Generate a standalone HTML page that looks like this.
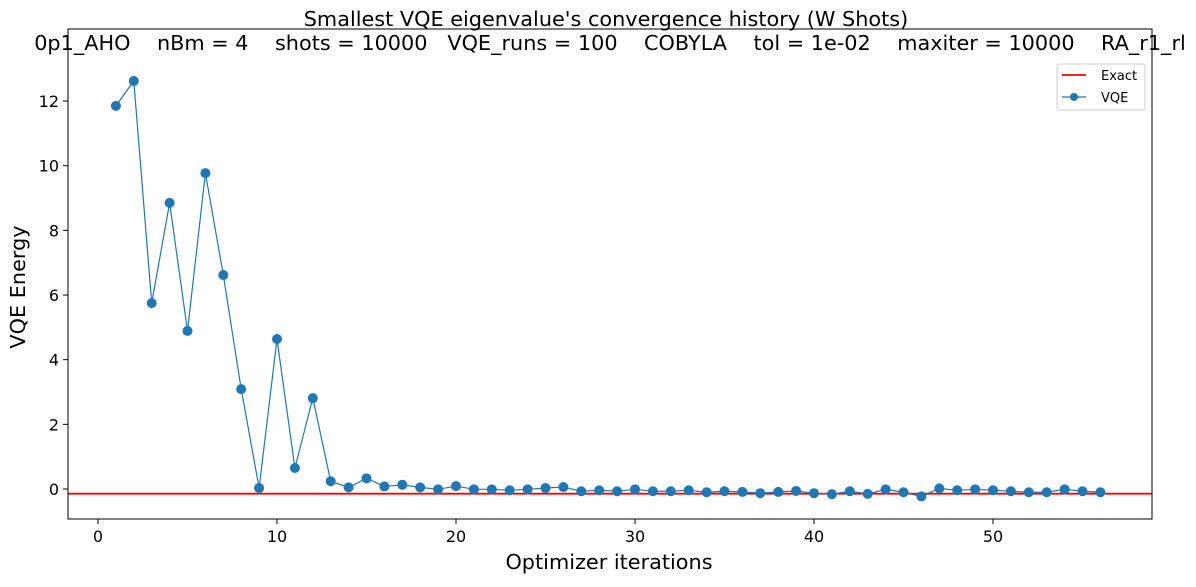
<!DOCTYPE html>
<html><head><meta charset="utf-8"><style>
body{margin:0;background:#fff;font-family:"Liberation Sans","DejaVu Sans",sans-serif}
text{white-space:pre}
</style></head><body>
<svg width="1196" height="582" font-family="'DejaVu Sans','Liberation Sans',sans-serif">
<text x="606" y="26" font-size="20.8" text-anchor="middle">Smallest VQE eigenvalue's convergence history (W Shots)</text>
<text x="610" y="50" font-size="20.8" text-anchor="middle" xml:space="preserve">0p1_AHO    nBm = 4    shots = 10000   VQE_runs = 100    COBYLA    tol = 1e-02    maxiter = 10000    RA_r1_rl</text>
<g id="plot"></g>
<text x="609" y="569" font-size="20.8" text-anchor="middle">Optimizer iterations</text>
<text transform="translate(25,287) rotate(-90)" font-size="20.8" text-anchor="middle">VQE Energy</text>
<g>
<rect x="1057" y="64" width="88" height="46" fill="#fff" stroke="#ccc" rx="2"/>
<line x1="1062" y1="75" x2="1086" y2="75" stroke="red" stroke-width="1.8"/>
<text x="1101" y="80" font-size="13">Exact</text>
<line x1="1062" y1="97" x2="1086" y2="97" stroke="#1f77b4" stroke-width="1.2"/>
<circle cx="1074" cy="97" r="4" fill="#1f77b4"/>
<text x="1101" y="102" font-size="13">VQE</text>
</g>
</svg>
<script>
const iterations = [1,2,3,4,5,6,7,8,9,10,11,12,13,14,15,16,17,18,19,20,21,22,23,24,25,26,27,28,29,30,31,32,33,34,35,36,37,38,39,40,41,42,43,44,45,46,47,48,49,50,51,52,53,54,55,56];
const energies = [11.85,12.62,5.75,8.85,4.89,9.77,6.62,3.09,0.03,4.64,0.65,2.81,0.24,0.05,0.33,0.08,0.13,0.05,-0.01,0.09,-0.01,-0.01,-0.04,-0.01,0.03,0.06,-0.07,-0.04,-0.07,-0.01,-0.07,-0.07,-0.04,-0.1,-0.07,-0.09,-0.13,-0.09,-0.06,-0.13,-0.16,-0.07,-0.15,-0.01,-0.1,-0.23,0.02,-0.04,-0.01,-0.04,-0.07,-0.1,-0.1,-0.01,-0.07,-0.1];
const exactValue = [-0.145];
const xTicks = [0,10,20,30,40,50];
const yTicks = [0,2,4,6,8,10,12];
const L=68,R=1152,T=29,B=519;
const xs=v=>98+v*17.9;
const ys=v=>489-v*32.33;
const g=document.getElementById('plot');
const NS='http://www.w3.org/2000/svg';
function mk(t,a){const e=document.createElementNS(NS,t);for(const k in a)e.setAttribute(k,a[k]);g.appendChild(e);return e;}
xTicks.forEach(t=>{
  const l=mk('line',{x1:xs(t),x2:xs(t),y1:B,y2:B+5,stroke:'#000'});
  
  
  const tx=mk('text',{x:xs(t),y:B+23,'font-size':16,'text-anchor':'middle'});tx.textContent=t;
  
  
});
yTicks.forEach(t=>{
  const l=mk('line',{x1:L-5,x2:L,y1:ys(t),y2:ys(t),stroke:'#000'});
  
  
  const tx=mk('text',{x:L-9,y:ys(t)+6,'font-size':16,'text-anchor':'end'});tx.textContent=t;
  
  
});
const ex=mk('line',{x1:L,x2:R,y1:ys(exactValue[0]),y2:ys(exactValue[0]),stroke:'red','stroke-width':1.8});


const pl=mk('polyline',{points:iterations.map((x,i)=>xs(x)+','+ys(energies[i])).join(' '),fill:'none',stroke:'#1f77b4','stroke-width':1.2});


iterations.forEach((x,i)=>{
  const c=mk('circle',{cx:xs(x),cy:ys(energies[i]),r:5,fill:'#1f77b4'});
  
  
});
const fr=mk('rect',{x:L,y:T,width:R-L,height:B-T,fill:'none',stroke:'#000','stroke-width':1});


</script>
</body></html>
